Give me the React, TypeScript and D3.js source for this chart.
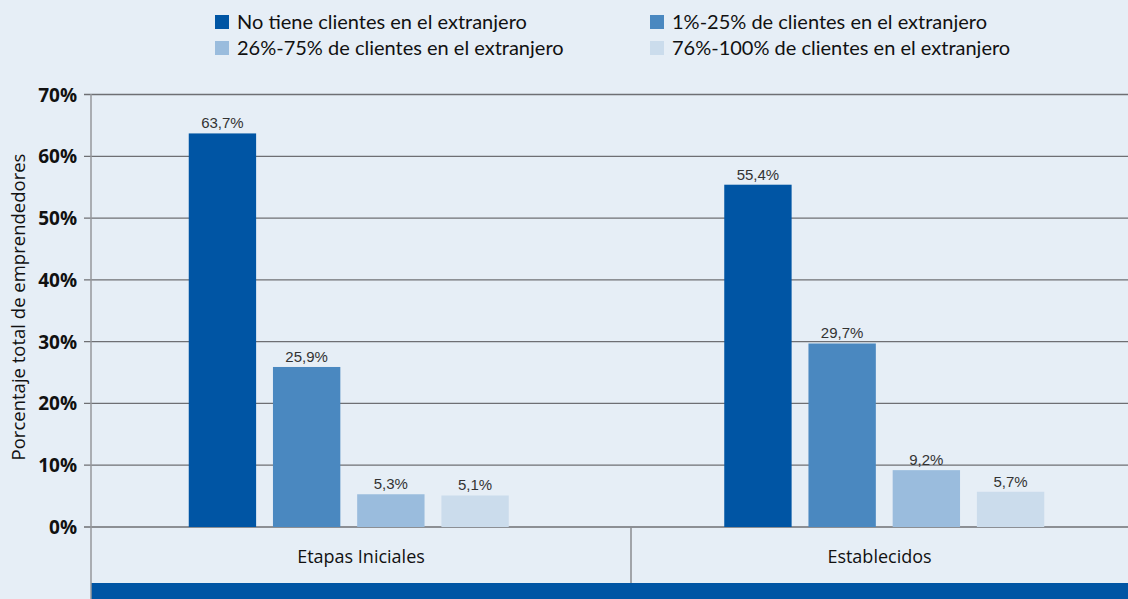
import React from "react";
import * as d3 from "d3";

const categories = ["Etapas Iniciales", "Establecidos"];
const seriesNames = [
  "No tiene clientes en el extranjero",
  "1%-25% de clientes en el extranjero",
  "26%-75% de clientes en el extranjero",
  "76%-100% de clientes en el extranjero",
];
const seriesColors = ["#0055a4", "#4a88c0", "#9abcdd", "#cbdcec"];
const values = [
  [63.7, 25.9, 5.3, 5.1],
  [55.4, 29.7, 9.2, 5.7],
];
const yTicks = [0, 10, 20, 30, 40, 50, 60, 70];
const yTitle = "Porcentaje total de emprendedores";

const W = 1128;
const H = 599;

export default function App() {
  const y = d3.scaleLinear().domain([0, 70]).range([527, 94.5]);
  const xAxisLeft = 91;
  const xGroup = d3.scaleBand<string>().domain(categories).range([81, 1152]).paddingInner(0).paddingOuter(0);
  const groupWidth = 320;
  const xInner = d3
    .scaleBand<number>()
    .domain(d3.range(seriesNames.length))
    .range([0, groupWidth])
    .paddingInner(0.2)
    .paddingOuter(0);
  const xCat = d3.scaleBand<string>().domain(categories).range([xAxisLeft, xAxisLeft + 1080]);
  const fmt = (v: number) => v.toFixed(1).replace(".", ",") + "%";

  const legendPos = [
    [215, 15],
    [650, 15],
    [215, 41],
    [650, 41],
  ];

  return (
    <svg width={W} height={H} style={{ position: "absolute", left: 0, top: 0 }}>
      <rect x={0} y={0} width={W} height={H} fill="#e6eef6" />
      {/* legend */}
      {seriesNames.map((s, i) => (
        <g key={s}>
          <rect x={legendPos[i][0]} y={legendPos[i][1]} width={14} height={14} fill={seriesColors[i]} />
          <text
            x={legendPos[i][0] + 22}
            y={legendPos[i][1] + 14}
            fontFamily="Lato"
            fontSize={20}
            fill="#111"
          >
            {s}
          </text>
        </g>
      ))}
      {/* grid lines */}
      {yTicks.map((t) => (
        <g key={t}>
          <line x1={84} x2={W} y1={y(t)} y2={y(t)} stroke="#6e6f73" strokeWidth={1.3} />
          <text
            x={77}
            y={y(t) + 7}
            textAnchor="end"
            fontFamily="Open Sans"
            fontWeight="bold"
            fontSize={19}
            fill="#111"
          >
            {t}%
          </text>
        </g>
      ))}
      {/* bottom band */}
      <rect x={xAxisLeft} y={583} width={W - xAxisLeft} height={H - 583} fill="#0055a4" />
      {/* category separator */}
      <line
        x1={xCat(categories[1])}
        x2={xCat(categories[1])}
        y1={527}
        y2={583}
        stroke="#8a8b8f"
        strokeWidth={1.5}
      />
      {/* y axis line */}
      <line x1={xAxisLeft} x2={xAxisLeft} y1={94} y2={H} stroke="#96979b" strokeWidth={1.5} />
      {/* category labels */}
      {categories.map((c) => {
        const x0 = xCat(c)!;
        const x1 = Math.min(x0 + xCat.bandwidth(), W);
        return (
          <text
            key={c}
            x={(x0 + x1) / 2}
            y={563}
            textAnchor="middle"
            fontFamily="Open Sans"
            fontSize={18}
            fill="#111"
          >
            {c}
          </text>
        );
      })}
      {/* bars */}
      {categories.map((c, ci) => {
        const gx = xGroup(c)! + xGroup.bandwidth() / 2 - groupWidth / 2;
        return (
          <g key={c} transform={`translate(${gx},0)`}>
            {values[ci].map((v, si) => (
              <g key={si}>
                <rect
                  x={xInner(si)}
                  y={y(v)}
                  width={xInner.bandwidth()}
                  height={y(0) - y(v)}
                  fill={seriesColors[si]}
                />
                <text
                  x={xInner(si)! + xInner.bandwidth() / 2}
                  y={y(v) - 5}
                  textAnchor="middle"
                  fontFamily="Liberation Sans"
                  fontSize={15}
                  fill="#333"
                >
                  {fmt(v)}
                </text>
              </g>
            ))}
          </g>
        );
      })}
      {/* y title */}
      <text
        transform={`translate(25,${307}) rotate(-90)`}
        textAnchor="middle"
        fontFamily="Open Sans"
        fontSize={18.5}
        fill="#111"
      >
        {yTitle}
      </text>
    </svg>
  );
}
